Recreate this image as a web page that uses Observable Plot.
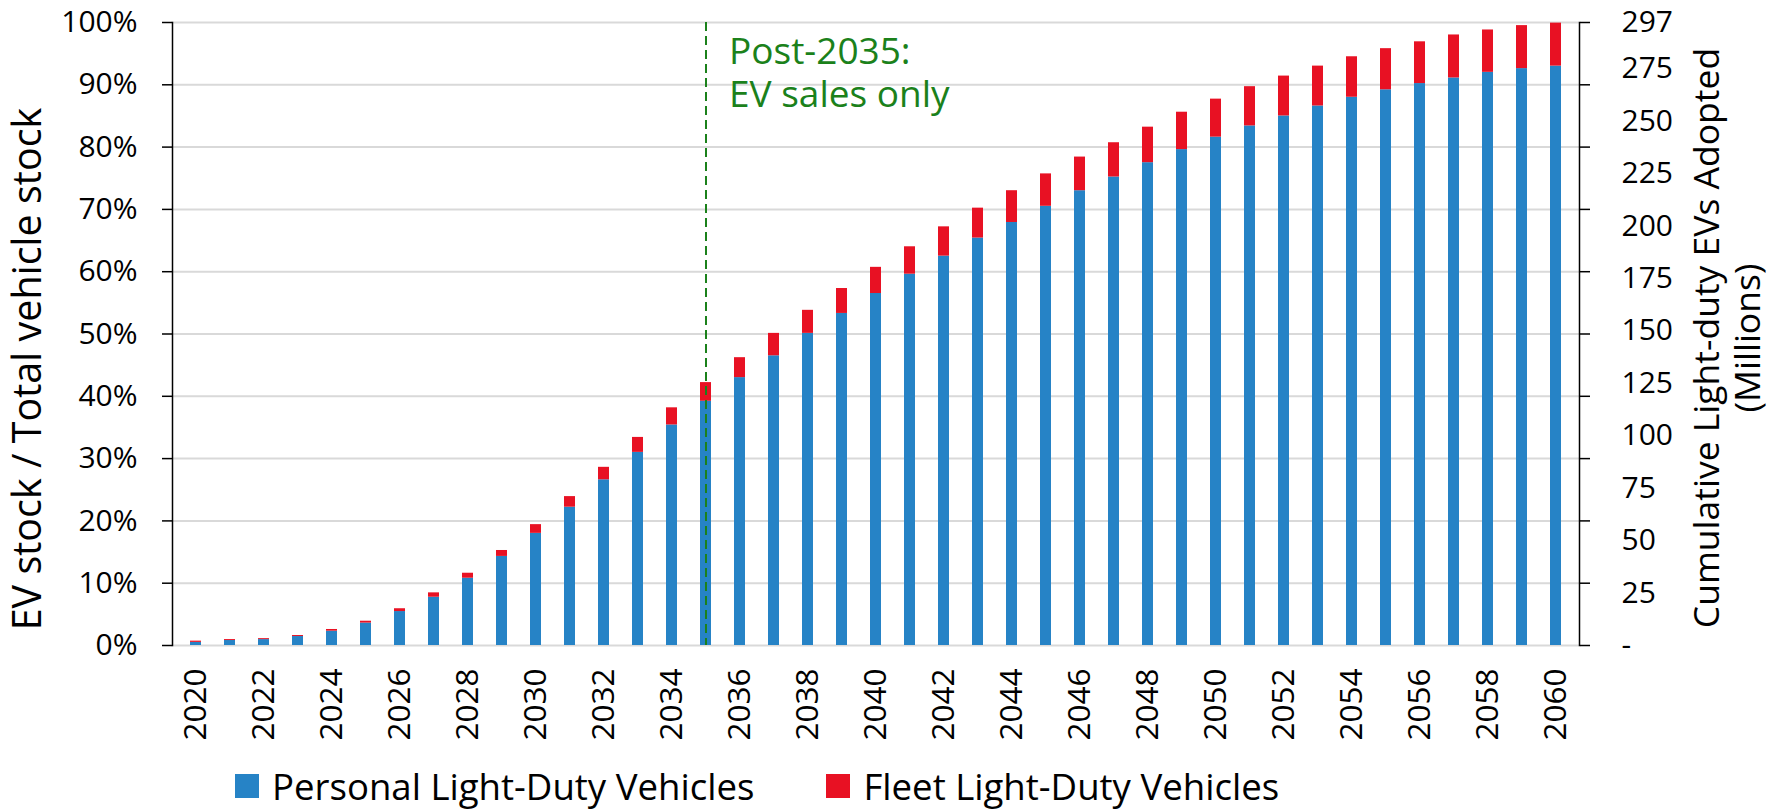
<!DOCTYPE html>
<html>
<head>
<meta charset="utf-8">
<script src="https://cdn.jsdelivr.net/npm/d3@7"></script>
<script src="https://cdn.jsdelivr.net/npm/@observablehq/plot@0.6"></script>
<style>
  html, body { margin: 0; padding: 0; background: #fff; }
  body { width: 1780px; height: 809px; overflow: hidden; font-family: "Open Sans", sans-serif; }
  #legend { height: 64px; box-sizing: border-box; padding-top: 18px; display: flex; align-items: center; font-size: 36.6px; color: #000; padding-left: 235px; }
  .item { display: flex; align-items: center; }
  .sw { width: 24px; height: 24px; margin-right: 13px; }
</style>
</head>
<body>
<div id="chart"></div>
<div id="legend"></div>
<script>
const years = [2020,2021,2022,2023,2024,2025,2026,2027,2028,2029,2030,2031,2032,2033,2034,2035,2036,2037,2038,2039,2040,2041,2042,2043,2044,2045,2046,2047,2048,2049,2050,2051,2052,2053,2054,2055,2056,2057,2058,2059,2060];
// EV stock share, percent of total vehicle stock
const personal = [0.5,0.8,0.95,1.44,2.3,3.6,5.45,7.75,10.8,14.3,18.0,22.2,26.6,31.0,35.4,39.2,43.0,46.5,50.1,53.3,56.5,59.6,62.5,65.4,67.9,70.5,73.0,75.2,77.5,79.6,81.6,83.4,85.0,86.6,88.0,89.2,90.2,91.1,92.0,92.6,93.0];
const fleet = [0.2,0.15,0.15,0.16,0.27,0.3,0.45,0.7,0.8,0.95,1.4,1.7,2.0,2.4,2.75,3.0,3.2,3.6,3.7,4.0,4.2,4.4,4.7,4.8,5.1,5.2,5.4,5.5,5.7,6.0,6.1,6.3,6.4,6.4,6.5,6.6,6.7,6.9,6.8,6.9,6.9];
const seriesNames = ["Personal Light-Duty Vehicles", "Fleet Light-Duty Vehicles"];
const seriesColors = ["#2683C6", "#E81123"];
const leftTicks = [0,10,20,30,40,50,60,70,80,90,100];
const rightTickValues = [0,25,50,75,100,125,150,175,200,225,250,275,297];
const rightMax = 297;
const xTickYears = [2020,2022,2024,2026,2028,2030,2032,2034,2036,2038,2040,2042,2044,2046,2048,2050,2052,2054,2056,2058,2060];
const annotationYear = 2035;
const annotationText = "Post-2035:\nEV sales only";
const leftTitle = "EV stock / Total vehicle stock";
const rightTitle = "Cumulative Light-duty EVs Adopted\n(Millions)";
const green = "#1b811b";

const rows = [];
years.forEach((yr, i) => {
  rows.push({year: yr, series: seriesNames[0], value: personal[i]});
  rows.push({year: yr, series: seriesNames[1], value: fleet[i]});
});

const chart = Plot.plot({
  width: 1780,
  height: 745,
  marginTop: 22,
  marginBottom: 100,
  marginLeft: 172,
  marginRight: 201,
  style: {fontFamily: "Open Sans", fontSize: "30px", color: "#000", background: "#fff"},
  x: {type: "band", domain: years, paddingInner: 0.68, paddingOuter: 0.34},
  y: {domain: [0, 100]},
  color: {domain: seriesNames, range: seriesColors},
  marks: [
    Plot.gridY(leftTicks, {stroke: "#d9d9d9", strokeOpacity: 1, strokeWidth: 2}),
    Plot.barY(rows, {x: "year", y: "value", fill: "series", order: seriesNames}),
    Plot.ruleX([annotationYear], {stroke: green, strokeWidth: 2, strokeDasharray: "9,5"}),
    Plot.frame({anchor: "left", stroke: "#000", strokeWidth: 1.5}),
    Plot.frame({anchor: "right", stroke: "#000", strokeWidth: 1.5}),
    Plot.axisY({anchor: "left", ticks: leftTicks, tickFormat: d => d + "%", tickSize: 10, tickPadding: 25, label: null, strokeWidth: 1.5}),
    Plot.axisY({anchor: "right", ticks: leftTicks, tickFormat: () => "", tickSize: 10, label: null, strokeWidth: 1.5}),
    Plot.axisY({anchor: "right", ticks: rightTickValues.map(v => v / rightMax * 100), tickFormat: d => { const v = Math.round(d * rightMax / 100); return v === 0 ? "-" : String(v); }, tickSize: 0, tickPadding: 42, label: null}),
    Plot.axisX({ticks: xTickYears, tickFormat: d => String(d), tickRotate: -90, tickSize: 0, tickPadding: 23, fontSize: 31.5, label: null}),
    Plot.text([{year: annotationYear, v: 100, t: annotationText}], {x: "year", y: "v", text: "t", textAnchor: "start", lineAnchor: "top", dx: 23, dy: 12, fontSize: 37, fill: green, lineHeight: 1.14}),
    Plot.text([leftTitle], {frameAnchor: "left", text: d => d, rotate: -90, textAnchor: "middle", dx: -144, dy: 35, fontSize: 39.5, fill: "#000"}),
    Plot.text([rightTitle], {frameAnchor: "right", text: d => d, rotate: -90, textAnchor: "middle", lineAnchor: "middle", dx: 147, dy: 4, fontSize: 35.5, fill: "#000", lineHeight: 1.14})
  ]
});
document.getElementById("chart").appendChild(chart);

const legend = document.getElementById("legend");
seriesNames.forEach((name, i) => {
  const item = document.createElement("div");
  item.className = "item";
  if (i > 0) item.style.marginLeft = "72px";
  const sw = document.createElement("div");
  sw.className = "sw";
  sw.style.background = seriesColors[i];
  const label = document.createElement("span");
  label.textContent = name;
  item.appendChild(sw);
  item.appendChild(label);
  legend.appendChild(item);
});
</script>
</body>
</html>
